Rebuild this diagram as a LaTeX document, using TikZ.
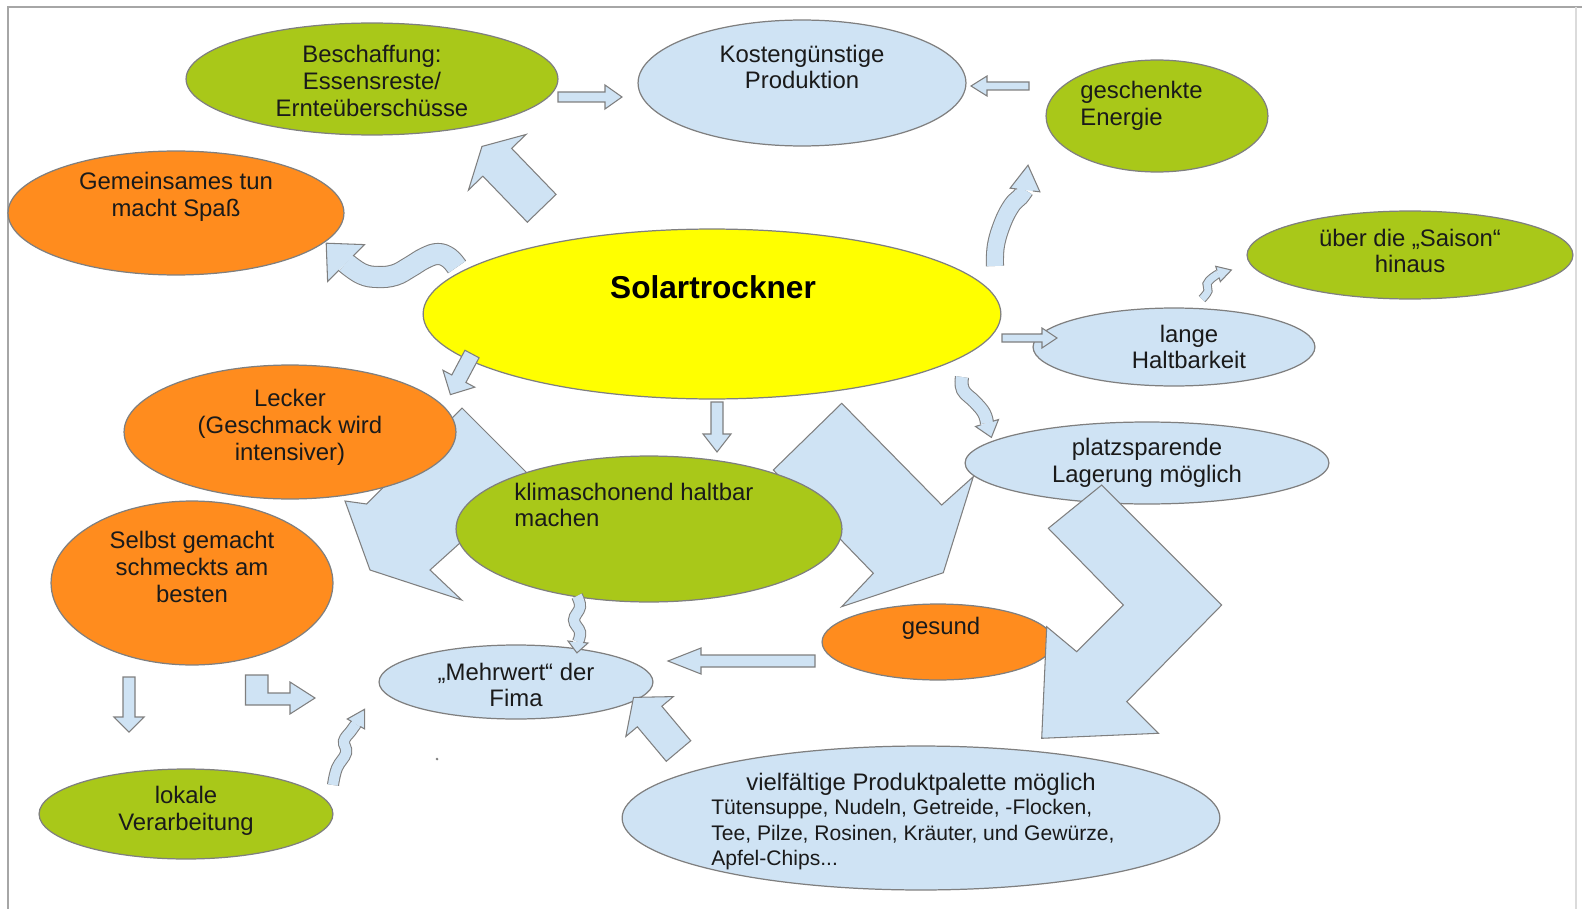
\documentclass[tikz,border=0pt]{standalone}
\usepackage{fontspec}
\setmainfont{Liberation Sans}
\usepackage{xcolor}
\usepackage{tikz}
\usetikzlibrary{
  shapes.geometric,
  positioning,
  calc
}
\definecolor{stGreen}{HTML}{A9C819}
\definecolor{stOrange}{HTML}{FF8C1E}
\definecolor{stBlue}{HTML}{CFE3F4}
\definecolor{stYellow}{HTML}{FFFF00}
\definecolor{stLine}{HTML}{7F7F7F}
\definecolor{stFrame}{HTML}{A6A6A6}
\definecolor{stText}{HTML}{1A1A1A}
\tikzset{
  bubble/.style={draw=stLine, ellipse, inner sep=0pt, line width=0.7pt},
  ellsize/.style 2 args={minimum width=#1*0.04cm, minimum height=#2*0.04cm},
  greenbub/.style={bubble, fill=stGreen},
  orangebub/.style={bubble, fill=stOrange},
  bluebub/.style={bubble, fill=stBlue},
  sunbub/.style={bubble, fill=stYellow},
  txt/.style={font=\fontsize{13.6}{15.3}\selectfont, align=center, text=stText, inner sep=0pt},
  smalltxt/.style={txt, font=\fontsize{12}{14.6}\selectfont, align=left},
  titletxt/.style={txt, font=\fontsize{18}{22}\selectfont\bfseries, text=black},
  blockarr/.style={fill=stBlue, draw=stLine, line width=0.6pt, line join=miter},
  waveband/.style={draw=stLine, line width=0.6pt, double=stBlue, double distance=#1},
  frameline/.style={draw=stFrame, line width=0.8pt}
}
% x, y, angle, length, shaft half width, head half width, head length
\newcommand{\blockarrow}[7]{%
  \draw[blockarr, shift={(#1,#2)}, rotate=#3]
    (0,-#5) -- ({#4-#7},-#5) -- ({#4-#7},-#6) -- (#4,0)
    -- ({#4-#7},#6) -- ({#4-#7},#5) -- (0,#5) -- cycle;}
% head of a wavy arrow: inner, wing, tip, wing, inner
\newcommand{\wavehead}[5]{%
  \fill[stBlue] #1 -- #2 -- #3 -- #4 -- #5 -- cycle;
  \draw[stLine, line width=0.6pt, line join=miter] #1 -- #2 -- #3 -- #4 -- #5;}

\begin{document}
\begin{tikzpicture}[x=0.02cm, y=-0.02cm]
  \useasboundingbox (0,0) rectangle (1582,909);
  \draw[frameline] (8,909) -- (8,7) -- (1582,7);
  \draw[frameline, draw=stFrame!40] (1576,7) -- (1576,909);

  % big arrows behind the bubbles
  \draw[blockarr] (462,408) -- (532,478) -- (430,570) -- (461.7,600) -- (370,570)
    -- (345,501) -- (366.7,504) -- cycle;
  \draw[blockarr] (841.7,403.3) -- (941.7,505) -- (973.3,476.7) -- (943.3,572.7)
    -- (841.7,606.7) -- (873.3,573.3) -- (773.3,470) -- cycle;

  % bubbles
  \node[greenbub, ellsize={186}{56}] (bes) at (372,79) {};
  \node[bluebub, ellsize={164}{63}] (kost) at (802,83) {};
  \node[greenbub, ellsize={111}{56}] (energie) at (1157,116) {};
  \node[orangebub, ellsize={168}{62}] (gem) at (176,213) {};
  \node[sunbub, ellsize={289}{85}] (solar) at (712,314) {};
  \node[greenbub, ellsize={163}{44}] (saison) at (1410,255) {};
  \node[bluebub, ellsize={141}{39}] (lange) at (1174,347) {};
  \node[orangebub, ellsize={166}{67}] (lecker) at (290,432) {};
  \node[bluebub, ellsize={182}{41}] (platz) at (1147,463) {};
  \node[greenbub, ellsize={193}{73}] (klima) at (649,529) {};
  \node[orangebub, ellsize={141}{82}] (selbst) at (192,583) {};
  \node[orangebub, ellsize={116}{38}] (gesund) at (938,642) {};
  \node[bluebub, ellsize={137}{37}] (mehrwert) at (516,682) {};
  \node[greenbub, ellsize={147}{45}] (lokal) at (186,814) {};
  \node[bluebub, ellsize={299}{72}] (vielf) at (921,818) {};

  % texts
  \node[txt] (bes-t) at (372,81) {Beschaffung:\\Essensreste/\\Ernteüberschüsse};
  \node[txt] (kost-t) at (802,67) {Kostengünstige\\Produktion};
  \node[txt, align=left, anchor=west] (energie-t) at (1080,106) {geschenkte\\Energie};
  \node[txt] (gem-t) at (176,197) {Gemeinsames tun\\macht Spaß};
  \node[titletxt] (solar-t) at (713,287) {Solartrockner};
  \node[txt] (saison-t) at (1410,251) {über die „Saison“\\hinaus};
  \node[txt] (lange-t) at (1189,347) {lange\\Haltbarkeit};
  \node[txt] (lecker-t) at (290,427) {Lecker\\(Geschmack wird\\intensiver)};
  \node[txt] (platz-t) at (1147,463) {platzsparende\\Lagerung möglich};
  \node[txt, align=left, anchor=west] (klima-t) at (514,505) {klimaschonend haltbar\\machen};
  \node[txt] (selbst-t) at (192,567) {Selbst gemacht\\schmeckts am\\besten};
  \node[txt] (gesund-t) at (941,628) {gesund};
  \node[txt] (mehrwert-t) at (516,685) {„Mehrwert“ der\\Fima};
  \node[txt] (lokal-t) at (186,811) {lokale\\Verarbeitung};
  \node[txt] (vielf-t) at (921,784) {vielfältige Produktpalette möglich};
  \node[smalltxt, anchor=north west] (vielf-l) at (711,799)
    {Tütensuppe, Nudeln, Getreide, -Flocken,\\Tee, Pilze, Rosinen, Kräuter, und Gewürze,\\Apfel-Chips...};
  \node[fill=stLine, circle, inner sep=0.6pt] (dot) at (437,759) {};

  % straight arrows
  \blockarrow{558}{97}{0}{64}{5}{12}{17}
  \blockarrow{1029}{86}{180}{58}{4}{10}{16}
  \blockarrow{541.7}{208.3}{134}{86}{20}{40}{22}
  \blockarrow{1002}{338}{0}{55}{4}{10}{15}
  \blockarrow{472}{354}{-118}{46}{8}{18}{18}
  \blockarrow{717}{402}{-90}{50}{6}{14}{18}
  \blockarrow{815}{661}{180}{147}{6}{13}{33}
  \blockarrow{129}{677}{-90}{55}{6}{15}{15}
  \blockarrow{678.5}{751}{130}{70}{16}{31}{25}
  \draw[blockarr] (245.5,675) -- (268,675) -- (268,693) -- (290,693) -- (290,682)
    -- (315,698) -- (290,714) -- (290,705) -- (245.5,705) -- cycle;

  % wavy arrows
  \draw[waveband=0.4cm] plot[smooth, tension=0.7] coordinates
    {(457,267) (449,258) (438,254) (425,258) (410,267) (395,275) (378,277) (362,274) (346,263)};
  \wavehead{(353.1,255.9)}{(364.4,244.6)}{(326.2,243.2)}{(327.6,281.4)}{(338.9,270.1)}
  \draw[waveband=0.32cm] plot[smooth, tension=0.7] coordinates
    {(995,266) (996,245) (1003,222) (1012,205) (1020,197) (1025,190)};
  \wavehead{(1032.9,191)}{(1039.9,191.8)}{(1028,165.2)}{(1010.1,188.2)}{(1017.1,189)}
  \draw[waveband=0.14cm] plot[smooth, tension=0.7] coordinates
    {(1202,299) (1208,291) (1207,284) (1212,278) (1218,274)};
  \wavehead{(1219,277.4)}{(1220.3,281.7)}{(1231.4,270)}{(1215.7,266.3)}{(1217,270.6)}
  \draw[waveband=0.24cm] plot[smooth, tension=0.7] coordinates
    {(962,377) (963,390) (975,402) (984,413) (987,423)};
  \wavehead{(992.8,421.3)}{(998.5,419.5)}{(991.4,437.4)}{(975.5,426.5)}{(981.2,424.7)}
  \draw[waveband=0.2cm] plot[smooth, tension=0.7] coordinates
    {(577,596) (580,607) (574,620) (580,632) (578,642)};
  \wavehead{(583,642.5)}{(588,643)}{(576.9,652.9)}{(568,641)}{(573,641.5)}
  \draw[waveband=0.2cm] plot[smooth, tension=0.7] coordinates
    {(333,785) (337,768) (346,753) (344,741) (351,731) (356,724)};
  \wavehead{(360.3,726.5)}{(364.7,729)}{(364.5,709.3)}{(347.3,719)}{(351.7,721.5)}

  % bent arrow over platz and gesund
  \draw[blockarr] (1101.7,485) -- (1221.7,605) -- (1126.7,701.7) -- (1158.3,733.3)
    -- (1041.7,738.3) -- (1046.7,626.7) -- (1076.7,651.7) -- (1123.3,605)
    -- (1048.3,528.3) -- cycle;
\end{tikzpicture}
\end{document}
